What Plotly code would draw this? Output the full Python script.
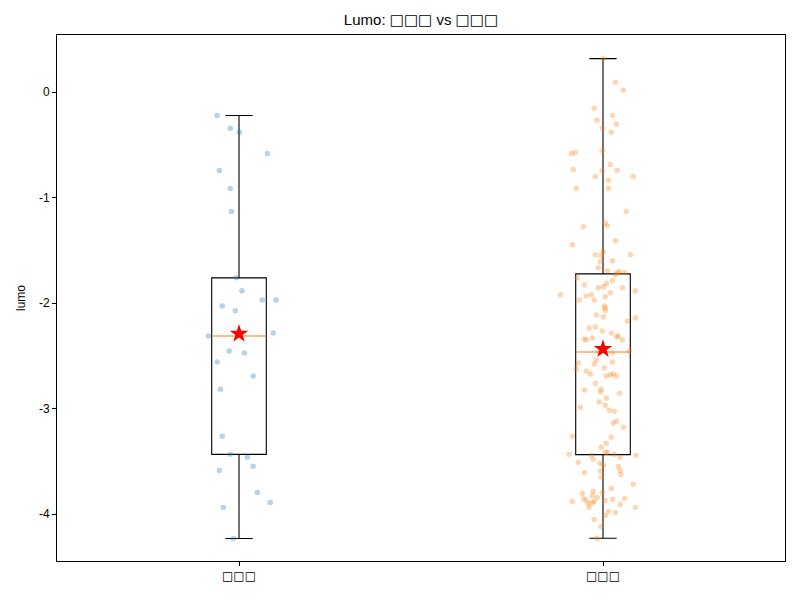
import plotly.graph_objects as go

# ---- data ----
BOXES = '<span style="font-family:DejaVu Sans">□□□</span>'
categories = [BOXES, BOXES]
positions = [1, 2]

# precomputed box statistics
q1 = [-3.432, -3.435]
median = [-2.310, -2.462]
q3 = [-1.759, -1.721]
lower_whisker = [-4.230, -4.227]
upper_whisker = [-0.220, 0.319]
means = [-2.29, -2.433]

# jittered points: horizontal offset from category centre, and value
g1_dx = [-0.060, -0.024, 0.001, 0.078, -0.054, -0.024, -0.021, -0.007, 0.008, -0.046,
         -0.010, 0.064, 0.102, -0.084, 0.094, -0.027, 0.015, -0.060, 0.039, -0.051,
         -0.046, -0.024, 0.023, 0.039, -0.054, 0.050, 0.086, -0.043, -0.016]
g1_y = [-0.219, -0.342, -0.380, -0.580, -0.741, -0.913, -1.131, -1.759, -1.882, -2.025,
        -2.072, -1.968, -1.968, -2.310, -2.281, -2.452, -2.471, -2.557, -2.690, -2.814,
        -3.260, -3.432, -3.460, -3.546, -3.584, -3.793, -3.888, -3.935, -4.230]

g2_dx = [0.001, 0.034, 0.056, -0.024, 0.026, -0.016, 0.037, -0.002, 0.023,
         -0.087, -0.076, -0.002, -0.082, 0.020, -0.002, 0.039, -0.021, 0.083, 0.015, -0.073, 0.015, 0.064,
         -0.054, 0.006, 0.012, -0.084, 0.034, -0.021, 0.001, -0.005, 0.075, -0.007, 0.026, -0.013,
         0.012, 0.045, 0.039, 0.059, 0.034, -0.071, 0.026, -0.051, 0.009, 0.001, -0.013, 0.053,
         0.089, 0.020, -0.117, -0.046, -0.032, 0.006, -0.065, -0.024,
         0.004, 0.006, 0.006, -0.018, 0.001, 0.089, 0.067, -0.038, -0.021, -0.002, 0.023, 0.042,
         0.037, -0.051, -0.046, -0.029, 0.053, -0.013, 0.026, 0.072, -0.018, -0.068, -0.024, 0.026,
         -0.073, 0.004, -0.046, -0.035, 0.009, 0.020, 0.028, 0.037, -0.021,
         -0.051, -0.005, -0.007, 0.045, 0.009, -0.010, 0.006, -0.062, 0.017, 0.031, 0.037, 0.028,
         0.056, -0.084, 0.023, 0.009, -0.005, 0.006, 0.012, -0.093, -0.032, 0.031, 0.091, -0.027,
         0.047, -0.068, -0.008, 0.042, 0.001,
         -0.051, -0.007, 0.047, 0.049, -0.005, 0.083, 0.023, -0.057, -0.027, -0.029, -0.002, -0.054,
         -0.016, 0.059, -0.084, -0.046, 0.006, 0.026, -0.040, -0.029, -0.024, 0.047, -0.038, 0.089,
         0.015, 0.034, 0.006, -0.024, -0.005, -0.016]
g2_y = [0.319, 0.095, 0.019, -0.152, -0.219, -0.266, -0.304, -0.342, -0.380,
        -0.580, -0.570, -0.551, -0.732, -0.684, -0.741, -0.741, -0.798, -0.798, -0.837, -0.913, -0.913, -1.131,
        -1.274, -1.236, -1.264, -1.445, -1.407, -1.540, -1.511, -1.549, -1.540, -1.606, -1.597, -1.663,
        -1.692, -1.702, -1.711, -1.711, -1.730, -1.759, -1.787, -1.825, -1.816, -1.844, -1.854, -1.854,
        -1.882, -1.901, -1.920, -1.930, -1.920, -1.939, -1.968, -1.968,
        -2.025, -2.044, -2.072, -2.110, -2.129, -2.139, -2.167, -2.234, -2.224, -2.262, -2.281, -2.310,
        -2.319, -2.338, -2.348, -2.329, -2.348, -2.462, -2.471, -2.452, -2.538, -2.567, -2.576, -2.557,
        -2.624, -2.614, -2.643, -2.671, -2.690, -2.681, -2.671, -2.690, -2.757,
        -2.823, -2.814, -2.842, -2.852, -2.899, -2.937, -2.966, -2.985, -3.013, -3.023, -3.118, -3.137,
        -3.175, -3.260, -3.270, -3.327, -3.365, -3.413, -3.413, -3.432, -3.441, -3.432, -3.441, -3.479,
        -3.460, -3.508, -3.517, -3.546, -3.536,
        -3.603, -3.593, -3.584, -3.622, -3.650, -3.717, -3.755, -3.802, -3.783, -3.821, -3.793, -3.850,
        -3.840, -3.850, -3.878, -3.869, -3.869, -3.859, -3.897, -3.888, -3.878, -3.907, -3.935, -3.935,
        -3.973, -3.983, -4.011, -4.049, -4.116, -4.230]

ytick_vals = [0, -1, -2, -3, -4]
ytick_text = ["0", "-1", "-2", "-3", "-4"]

title_text = "Lumo: " + BOXES + " vs " + BOXES
ylabel = "lumo"

# ---- style ----
BOX_W = 0.15
point_colors = ["#1f77b4", "#ff7f0e"]
FONT = "Liberation Sans, Arial, DejaVu Sans, sans-serif"

fig = go.Figure()

for i, p in enumerate(positions):
    fig.add_trace(go.Box(
        x=[p], q1=[q1[i]], median=[median[i]], q3=[q3[i]],
        lowerfence=[lower_whisker[i]], upperfence=[upper_whisker[i]],
        width=BOX_W, whiskerwidth=0.5,
        line=dict(color="black", width=1.1),
        fillcolor="rgba(0,0,0,0)",
        boxpoints=False, showlegend=False, hoverinfo="skip",
    ))
    # white underlay hides the box's own black median, then the orange median
    seg_x = [p - BOX_W / 2 + 0.002, p + BOX_W / 2 - 0.002]
    fig.add_trace(go.Scatter(
        x=seg_x, y=[median[i], median[i]],
        mode="lines", line=dict(color="white", width=2.5),
        showlegend=False, hoverinfo="skip",
    ))
    fig.add_trace(go.Scatter(
        x=[p - BOX_W / 2, p + BOX_W / 2], y=[median[i], median[i]],
        mode="lines", line=dict(color="#ff7f0e", width=1.1),
        showlegend=False, hoverinfo="skip",
    ))

groups = [(g1_dx, g1_y), (g2_dx, g2_y)]
for i, (dx, ys) in enumerate(groups):
    fig.add_trace(go.Scatter(
        x=[positions[i] + d for d in dx], y=ys, mode="markers",
        marker=dict(color=point_colors[i], size=5.5, opacity=0.32,
                    line=dict(width=0)),
        showlegend=False, hoverinfo="skip",
    ))

fig.add_trace(go.Scatter(
    x=positions, y=means, mode="markers",
    marker=dict(symbol="star", color="red", size=14, line=dict(width=0)),
    showlegend=False, hoverinfo="skip",
))

axis_common = dict(
    showline=True, linecolor="black", linewidth=1, mirror=True,
    showgrid=False, zeroline=False, ticks="outside", ticklen=4,
    tickcolor="black", tickwidth=1,
    tickfont=dict(family=FONT, size=12, color="black"),
)

# the page body has an 8px margin, so the figure is sized to fit the window
fig.update_layout(
    width=792, height=592,
    margin=dict(l=49, r=15, t=27, b=39),
    paper_bgcolor="white", plot_bgcolor="white",
    title=dict(text=title_text, x=0.5, xref="paper", xanchor="center",
               y=0.98, yanchor="middle", yref="container",
               font=dict(family=FONT, size=15, color="black")),
    xaxis=dict(range=[0.5, 2.5], tickvals=positions, ticktext=categories, **axis_common),
    yaxis=dict(range=[-4.443, 0.543], tickvals=ytick_vals, ticktext=ytick_text,
               title=dict(text=ylabel, font=dict(family=FONT, size=12, color="black"), standoff=10),
               **axis_common),
    showlegend=False,
)

fig.write_html("out.html")
